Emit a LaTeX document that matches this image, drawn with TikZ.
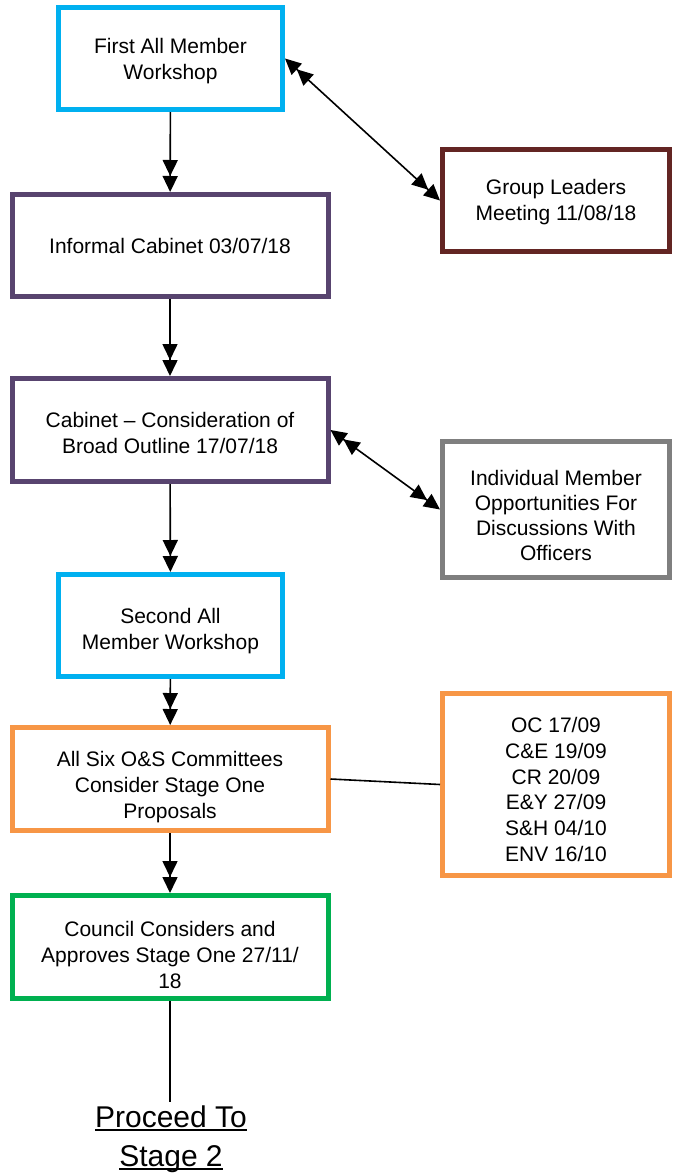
\documentclass[tikz,border=0pt]{standalone}
\usepackage{fontspec}
\setmainfont{Liberation Sans}
\usetikzlibrary{arrows.meta}
\definecolor{cblue}{HTML}{00B0F0}
\definecolor{cpurple}{HTML}{58446F}
\definecolor{cbrown}{HTML}{632523}
\definecolor{cgrey}{HTML}{7F7F7F}
\definecolor{corange}{HTML}{F79646}
\definecolor{cgreen}{HTML}{00B050}
\newcommand\myul[1]{\setbox0\hbox{#1}\rlap{\rule[-3.2pt]{\wd0}{1.8pt}}\box0}
\tikzset{
  box/.style={draw=#1, line width=5pt, fill=white, inner sep=0pt},
  txt/.style={align=center, inner sep=0pt, font=\fontsize{21pt}{26pt}\selectfont},
  flow/.style={line width=1.6pt, -{Triangle[length=16pt,width=15pt]Triangle[length=16pt,width=15pt]}},
  both/.style={line width=1.6pt, {Triangle[length=16pt,width=15pt]Triangle[length=16pt,width=15pt]}-{Triangle[length=16pt,width=15pt]Triangle[length=16pt,width=15pt]}},
  plain/.style={line width=1.6pt},
}
\begin{document}
\begin{tikzpicture}[x=1pt,y=-1pt]
\useasboundingbox (0,0) rectangle (674,1175);
\node[box=cblue, minimum width=224pt, minimum height=102pt] (b1) at (170.5,58.5) {};
\node[box=cpurple, minimum width=316pt, minimum height=102pt] (b2) at (170,245.5) {};
\node[box=cbrown, minimum width=227pt, minimum height=102pt] (gl) at (556,200.5) {};
\node[box=cpurple, minimum width=316pt, minimum height=103pt] (b3) at (170,430) {};
\node[box=cgrey, minimum width=227pt, minimum height=136pt] (im) at (556,509.5) {};
\node[box=cblue, minimum width=224pt, minimum height=102pt] (b4) at (170.5,625.5) {};
\node[box=corange, minimum width=316pt, minimum height=103pt] (b5) at (170,779) {};
\node[box=corange, minimum width=227pt, minimum height=182pt] (oc) at (556,784.5) {};
\node[box=cgreen, minimum width=316pt, minimum height=103pt] (b6) at (170,947) {};
\node[txt] (b1t) at ([yshift=-3pt]b1.center) {First All Member\\Workshop};
\node[txt] (b2t) at (b2.center) {Informal Cabinet 03/07/18};
\node[txt] (glt) at ([yshift=-2pt]gl.center) {Group Leaders\\Meeting 11/08/18};
\node[txt] (b3t) at ([yshift=-3pt]b3.center) {Cabinet -- Consideration of\\Broad Outline 17/07/18};
\node[txt, font=\fontsize{21pt}{25.3pt}\selectfont] (imt) at ([yshift=-6pt]im.center) {Individual Member\\Opportunities For\\Discussions With\\Officers};
\node[txt] (b4t) at ([yshift=-6pt]b4.center) {Second All\\Member Workshop};
\node[txt] (b5t) at ([yshift=-8pt]b5.center) {All Six O\&S Committees\\Consider Stage One\\Proposals};
\node[txt, font=\fontsize{21pt}{25.8pt}\selectfont] (oct) at ([yshift=-5pt]oc.center) {OC 17/09\\C\&E 19/09\\CR 20/09\\E\&Y 27/09\\S\&H 04/10\\ENV 16/10};
\node[txt] (b6t) at ([yshift=-8pt]b6.center) {Council Considers and\\Approves Stage One 27/11/\\18};
\node[align=center, inner sep=0pt, font=\fontsize{30pt}{39pt}\selectfont] (pr) at (171,1139.5) {\myul{Proceed To}\\\myul{Stage 2}};
\coordinate (end) at (170,1102);
\draw[flow] (b1) -- (b2);
\draw[flow] (b2) -- (b3);
\draw[flow] (b3) -- (b4);
\draw[flow] (b4) -- (b5);
\draw[flow] (b5) -- (b6);
\draw[both] (b1.east) -- (gl.west);
\draw[both] (b3.east) -- (im.west);
\draw[plain] (b5.east) -- (oc.west);
\draw[plain] (b6.south) -- (end);
\end{tikzpicture}
\end{document}
